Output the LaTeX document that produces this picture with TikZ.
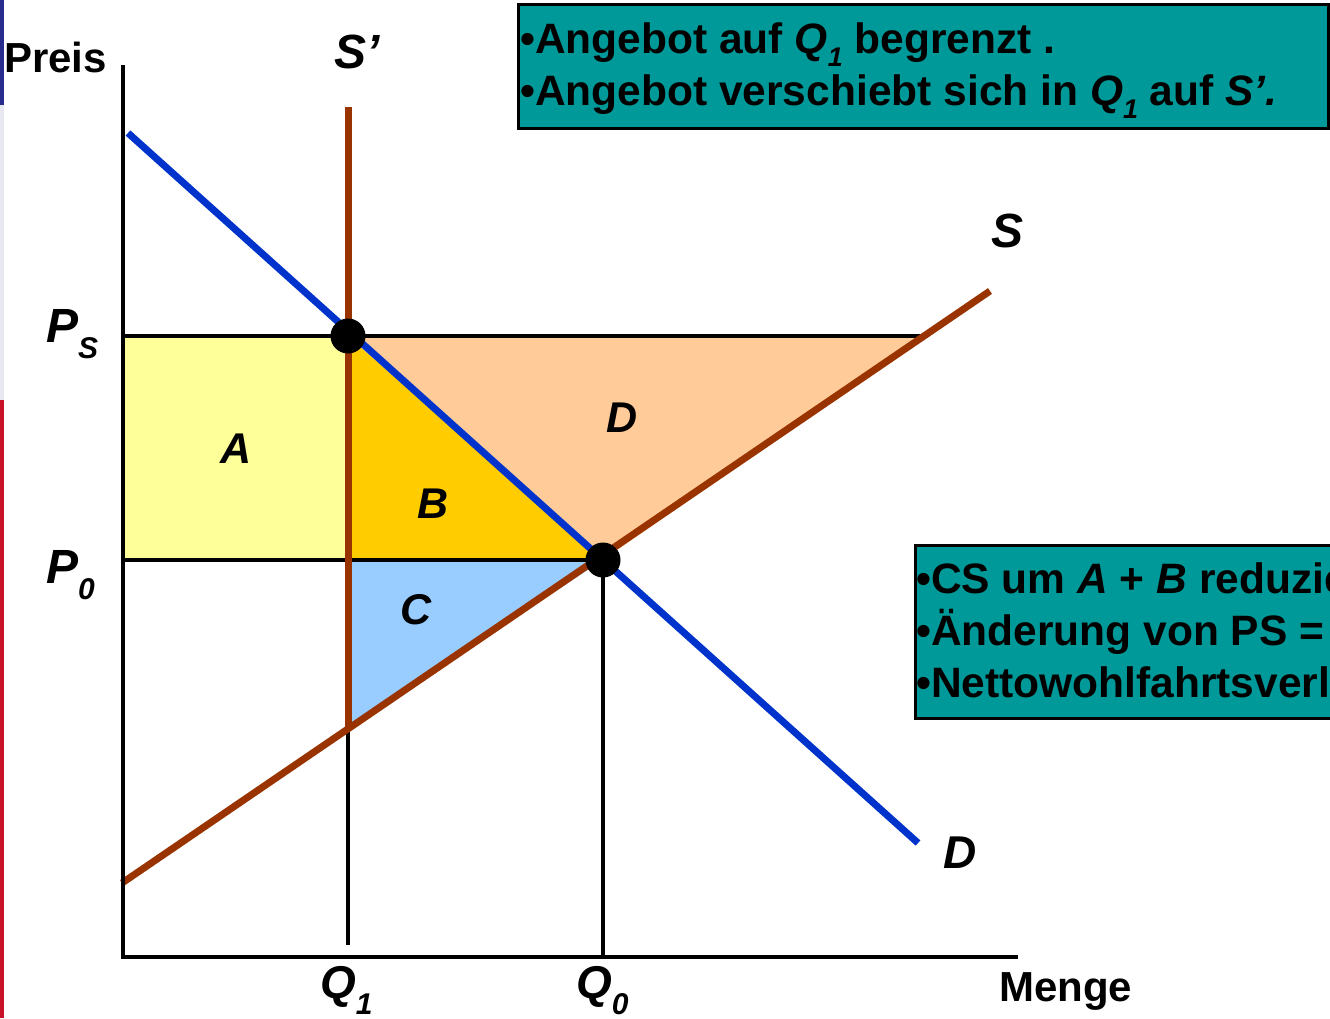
\documentclass[tikz,border=0pt]{standalone}
\usepackage{fontspec}
\setmainfont{Liberation Sans}
\definecolor{dblue}{RGB}{0,51,204}
\definecolor{sbrown}{RGB}{153,51,0}
\definecolor{boxteal}{RGB}{0,153,153}
\definecolor{areaA}{RGB}{255,255,153}
\definecolor{areaB}{RGB}{255,204,0}
\definecolor{areaC}{RGB}{153,204,255}
\definecolor{areaD}{RGB}{255,204,153}
\definecolor{stripblue}{RGB}{40,44,140}
\definecolor{stripgray}{RGB}{232,232,240}
\definecolor{stripred}{RGB}{200,16,40}
\newcommand\lowsub[1]{\raisebox{-16pt}{\fontsize{30}{30}\selectfont #1}}
\newcommand\boxsub[1]{\raisebox{-13pt}{\fontsize{27}{27}\selectfont #1}}
\begin{document}
\begin{tikzpicture}[x=1pt,y=-1pt,
  lbl/.style={font=\fontsize{48}{48}\selectfont\bfseries\itshape, inner sep=0pt},
  area/.style={font=\fontsize{43}{43}\selectfont\bfseries\itshape, inner sep=0pt, anchor=base},
  txt/.style={font=\fontsize{42}{42}\selectfont\bfseries, inner sep=0pt},
  boxtxt/.style={font=\fontsize{42.5}{42.5}\selectfont\bfseries, inner sep=0pt, anchor=base west},
  axis/.style={line width=4pt, black},
  guide/.style={line width=3.2pt, black},
  dcurve/.style={line width=7pt, dblue},
  scurve/.style={line width=7pt, sbrown},
  dot/.style={circle, fill=black, minimum size=35pt, inner sep=0pt},
  infobox/.style={fill=boxteal, draw=black, line width=3pt}]
\useasboundingbox (0,0) rectangle (1330,1018);
\clip (0,0) rectangle (1330,1018);
% left strip
\fill[stripblue] (0,0) rectangle (4,105);
\fill[stripgray] (0,105) rectangle (4,400);
\fill[stripred] (0,400) rectangle (4,1018);
% coordinates
\coordinate (O) at (123,957);
\coordinate (Ytop) at (123,65);
\coordinate (Xend) at (1018,957);
\coordinate (Dstart) at (128,133);
\coordinate (Dend) at (918,843);
\coordinate (Sstart) at (122,883);
\coordinate (Send) at (990,291);
\coordinate (E1) at (348,336);
\coordinate (E0) at (603,560);
\coordinate (Sptop) at (348,107);
\coordinate (Spbot) at (348,727);
\coordinate (PsL) at (123,336);
\coordinate (PsR) at (928,336);
\coordinate (P0L) at (123,560);
\coordinate (Q1mid) at (348,560);
\coordinate (Q1b) at (348,945);
\coordinate (Q0b) at (603,957);
\coordinate (DpR) at (924,336);
% areas
\fill[areaA] (PsL) rectangle (Q1mid);
\fill[areaB] (E1) -- (E0) -- (Q1mid) -- cycle;
\fill[areaD] (E1) -- (DpR) -- (E0) -- cycle;
\fill[areaC] (Q1mid) -- (E0) -- (Spbot) -- cycle;
% guides
\draw[guide] (PsL) -- (PsR);
\draw[guide] (P0L) -- (E0);
\draw[guide] (Spbot) -- (Q1b);
\draw[guide] (E0) -- (Q0b);
% curves
\draw[scurve] (Sptop) -- (Spbot);
\draw[scurve] (Sstart) -- (Send);
\draw[dcurve] (Dstart) -- (Dend);
% axes
\draw[axis] (Ytop) -- (O) -- (Xend);
% dots
\node[dot] (dot1) at (E1) {};
\node[dot] (dot0) at (E0) {};
% labels
\node[txt, anchor=base west] (preis) at (4,72) {Preis};
\node[lbl, anchor=base west] (sprime) at (334,68) {S’};
\node[lbl, anchor=base west] (slab) at (991,247) {S};
\node[lbl, anchor=base west, font=\fontsize{46}{46}\selectfont\bfseries\itshape] (dlab) at (943,868) {D};
\node[lbl, anchor=base west] (ps) at (46,342) {P\lowsub{S}};
\node[lbl, anchor=base west] (p0) at (46,583) {P\lowsub{0}};
\node[lbl, anchor=base west, font=\fontsize{46}{46}\selectfont\bfseries\itshape] (q1) at (320,998) {Q\lowsub{1}};
\node[lbl, anchor=base west, font=\fontsize{46}{46}\selectfont\bfseries\itshape] (q0) at (576,998) {Q\lowsub{0}};
\node[txt, anchor=base west] (menge) at (999,1001) {Menge};
\node[area] (la) at (236,463) {A};
\node[area] (lb) at (433,518) {B};
\node[area] (lc) at (416,624) {C};
\node[area] (ld) at (622,432) {D};
% top info box
\draw[infobox] (518,4) rectangle (1328,128);
\node[boxtxt] (t1) at (520,53) {•Angebot auf \textit{Q}\boxsub{\textit{1}} begrenzt .};
\node[boxtxt] (t2) at (520,105) {•Angebot verschiebt sich in \textit{Q}\boxsub{\textit{1}} auf \textit{S’.}};
% right info box
\draw[infobox] (915,545) rectangle (1345,718);
\node[boxtxt] (r1) at (916,593) {•CS um \textit{A} + \textit{B} reduziert};
\node[boxtxt] (r2) at (916,645) {•Änderung von PS =};
\node[boxtxt] (r3) at (916,697) {•Nettowohlfahrtsverlust};
\end{tikzpicture}
\end{document}
